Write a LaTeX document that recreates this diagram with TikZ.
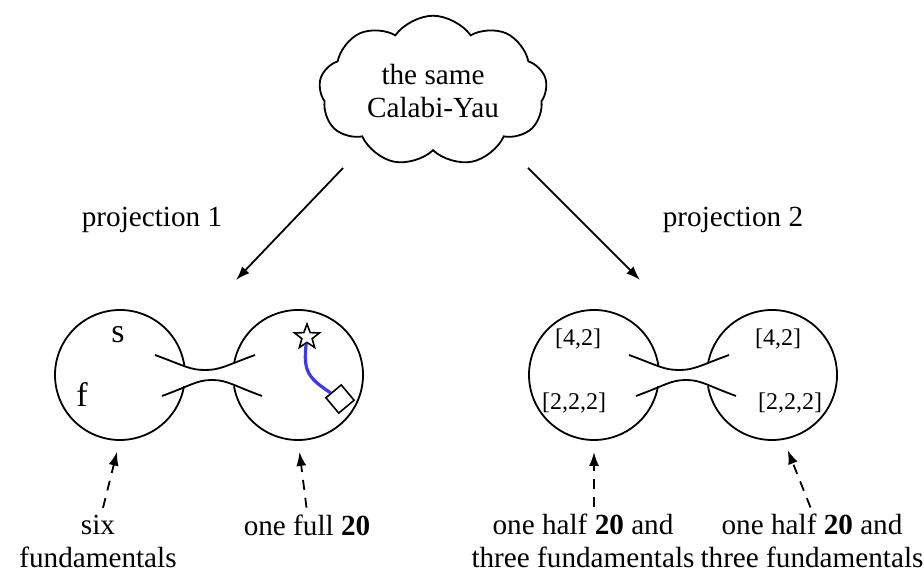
\documentclass[tikz,border=0pt]{standalone}
\usepackage{fontspec}
\setmainfont{Liberation Serif}
\usetikzlibrary{arrows}
\usetikzlibrary{arrows.meta}
\usetikzlibrary{shapes.geometric}
\usetikzlibrary{shapes.symbols}
\tikzset{>={Latex[length=7pt,width=5pt]}}
\definecolor{wire}{RGB}{60,60,230}

\begin{document}
\begin{tikzpicture}[x=0.5pt, y=0.5pt, line width=0.9pt,
    txt/.style={font=\fontsize{14.6}{16.5}\selectfont, align=center, inner sep=1pt},
    ball/.style={circle, minimum size=65pt, inner sep=0pt, outer sep=0pt},
    tag/.style={font=\fontsize{12}{14}\selectfont, inner sep=0pt},
    hint/.style={->, dash pattern=on 5pt off 4pt, shorten >=6pt, shorten <=2pt}]
    \useasboundingbox (0,0) rectangle (924,576);

    % Draw the common Calabi-Yau and the two projections.
    \node[draw, cloud, cloud puffs=9, cloud puff arc=110, aspect=1.55, minimum width=114pt, minimum height=70pt, txt] (cy) at (433,485) {the same\\Calabi-Yau};
    \coordinate (tL) at (343,408);
    \coordinate (tR) at (528,408);
    \coordinate (pL) at (236,296);
    \coordinate (pR) at (640,296);
    \draw[->] (tL) -- (pL);
    \draw[->] (tR) -- (pR);
    \node[txt] (proj1) at (152,356) {projection 1};
    \node[txt] (proj2) at (733,356) {projection 2};

    % Draw the balls, leaving room for the tubes.
    \node[ball] (cA) at (120,201) {};
    \node[ball] (cB) at (298,201) {};
    \node[ball] (cC) at (594,201) {};
    \node[ball] (cD) at (772,201) {};
    \draw (cA.8) arc[start angle=8, end angle=350, radius=32.5pt];
    \draw (cB.190) arc[start angle=190, end angle=530, radius=32.5pt];
    \draw (cC.8) arc[start angle=8, end angle=350, radius=32.5pt];
    \draw (cD.190) arc[start angle=190, end angle=530, radius=32.5pt];

    % Draw the tubes between the balls.
    \foreach \dx in {0,474} {
      \begin{scope}[shift={(\dx,0)}]
        \draw (155,221) .. controls (185,210) and (190,206) .. (205,206) .. controls (220,206) and (225,210) .. (255,221);
        \draw (162,180) .. controls (192,191) and (197,196) .. (212,196) .. controls (227,196) and (232,191) .. (262,180);
      \end{scope}
    }

    % Labels inside the balls.
    \node[font=\fontsize{17}{17}\selectfont] (s) at (118,241) {s};
    \node[font=\fontsize{17}{17}\selectfont] (f) at (82,181) {f};
    \node[tag] (c42) at (578,237) {[4,2]};
    \node[tag] (c222) at (574,173) {[2,2,2]};
    \node[tag] (d42) at (778,237) {[4,2]};
    \node[tag] (d222) at (790,173) {[2,2,2]};

    % Draw the star and the box with the wire.
    \node[star, star points=5, star point ratio=2.4, draw, fill=white, minimum size=13pt, inner sep=0pt, line width=0.8pt] (pin) at (307,239) {};
    \node[draw, fill=white, rectangle, rotate=40, minimum size=10pt, inner sep=0pt, line width=0.8pt] (box) at (340,177) {};
    \draw[wire, line width=1.6pt] (pin) .. controls (303,205) and (308,198) .. (box);

    % Write the contents below.
    \node[txt] (lab1) at (98,35) {six\\fundamentals};
    \node[txt] (lab2) at (307,51) {one full \textbf{20}};
    \node[txt] (lab3) at (583,35) {one half \textbf{20} and\\three fundamentals};
    \node[txt] (lab4) at (812,35) {one half \textbf{20} and\\three fundamentals};
    \draw[hint] ([xshift=2pt]lab1.north) -- (cA.south);
    \draw[hint] (lab2.north) -- (cB.south);
    \draw[hint] (lab3.north -| cC.south) -- (cC.south);
    \draw[hint] (lab4.north) -- (cD.-80);
\end{tikzpicture}
\end{document}
